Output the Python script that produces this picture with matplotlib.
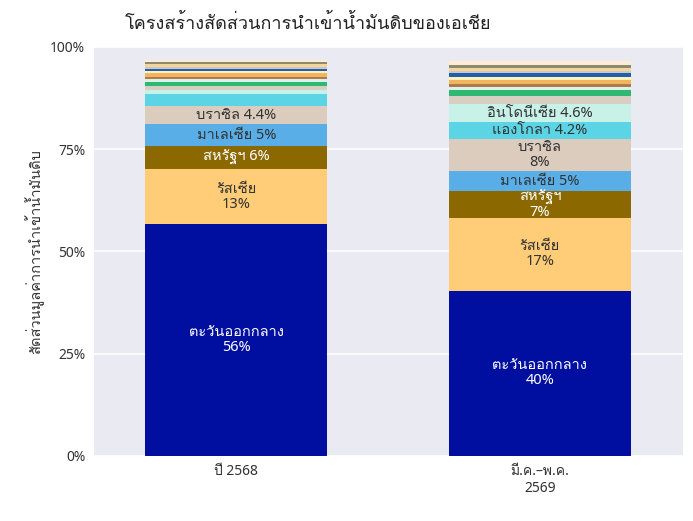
import matplotlib
matplotlib.use("Agg")
import matplotlib.pyplot as plt
from matplotlib import font_manager
from matplotlib.ft2font import FT2Font
import numpy as np

# find an installed family that covers Thai
thai_family = None
for f in font_manager.fontManager.ttflist:
    try:
        if ord('ก') in FT2Font(f.fname).get_charmap():
            thai_family = f.name
            break
    except Exception:
        pass
families = ['Noto Sans', 'DejaVu Sans']
if thai_family:
    families.insert(1, thai_family)
plt.rcParams['font.family'] = families

periods = ['ปี 2568', 'มี.ค.–พ.ค.\n2569']
regions = ['ตะวันออกกลาง', 'รัสเซีย', 'สหรัฐฯ', 'มาเลเซีย', 'บราซิล', 'แองโกลา', 'อินโดนีเซีย',
           'อื่นๆ 1', 'อื่นๆ 2', 'อื่นๆ 3', 'อื่นๆ 4', 'อื่นๆ 5', 'อื่นๆ 6', 'อื่นๆ 7',
           'อื่นๆ 8', 'อื่นๆ 9', 'อื่นๆ 10', 'อื่นๆ 11']
share_2568 = [56.6, 13.5, 5.6, 5.4, 4.4, 3.0, 1.0, 0.9, 1.0, 0.8, 0.5, 0.8, 0.6, 0.5, 0.6, 0.5, 0.5, 0.5]
share_2569 = [40.4, 17.7, 6.6, 4.9, 7.9, 4.1, 4.4, 2.0, 1.4, 0.7, 0.9, 0.9, 0.8, 0.8, 0.6, 0.8, 0.7, 1.0]
labels_2568 = ['ตะวันออกกลาง\n56%', 'รัสเซีย\n13%', 'สหรัฐฯ 6%', 'มาเลเซีย 5%', 'บราซิล 4.4%']
labels_2569 = ['ตะวันออกกลาง\n40%', 'รัสเซีย\n17%', 'สหรัฐฯ\n7%', 'มาเลเซีย 5%', 'บราซิล\n8%',
               'แองโกลา 4.2%', 'อินโดนีเซีย 4.6%']
colors = ['#000F9F', '#FFCC77', '#8B6800', '#5AAEE8', '#DCCCBE', '#5BD5E5', '#C8F1E8',
          '#D6CFC2', '#2EB872', '#D8F3EE', '#B07A4A', '#F2B45E', '#FFF1B8', '#1F5FAF',
          '#C8C8C8', '#F5D49A', '#8C8C6C', '#FDEBD8']
text_colors = ['white', '#333333', 'white', '#333333', '#333333', '#333333', '#333333']

fig, ax = plt.subplots(figsize=(6.93, 5.21), dpi=100)
fig.subplots_adjust(left=0.135, right=0.985, top=0.91, bottom=0.125)
ax.set_facecolor('#EAEAF2')
for s in ax.spines.values():
    s.set_visible(False)
ax.yaxis.grid(True, color='white', lw=1.2)
ax.set_axisbelow(True)

x = np.arange(2)
data = np.array([share_2568, share_2569])
bottom = np.zeros(2)
for i, r in enumerate(regions):
    ax.bar(x, data[:, i], bottom=bottom, width=0.6, color=colors[i])
    for j, labs in enumerate([labels_2568, labels_2569]):
        if i < len(labs):
            ax.text(x[j], bottom[j] + data[j, i] / 2, labs[i], ha='center', va='center',
                    fontsize=10.5, color=text_colors[i], linespacing=1.0)
    bottom += data[:, i]

ax.set_xlim(-0.47, 1.47)
ax.set_ylim(0, 100)
ax.set_yticks([0, 25, 50, 75, 100])
ax.set_yticklabels(['0%', '25%', '50%', '75%', '100%'], fontsize=10, color='#333333')
ax.set_xticks(x)
ax.set_xticklabels(periods, fontsize=10, color='#333333')
ax.tick_params(length=0, pad=6)
ax.set_ylabel('สัดส่วนมูลค่าการนำเข้าน้ำมันดิบ', fontsize=10.5, color='#333333')
fig.text(0.18, 0.955, 'โครงสร้างสัดส่วนการนำเข้าน้ำมันดิบของเอเชีย', fontsize=13, color='#222222', va='center')
fig.savefig('out.png')
